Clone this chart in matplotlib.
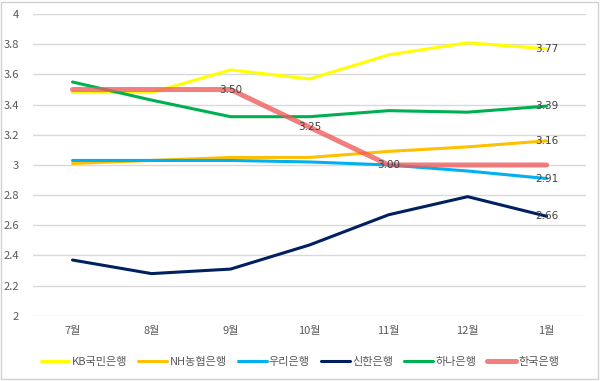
import matplotlib
matplotlib.use("Agg")
import matplotlib.pyplot as plt
from matplotlib.patches import Rectangle

plt.rcParams['font.family'] = ['Noto Sans CJK KR', 'DejaVu Sans']

months = ["7월", "8월", "9월", "10월", "11월", "12월", "1월"]
kb = [3.48, 3.48, 3.63, 3.57, 3.73, 3.81, 3.77]
nh = [3.01, 3.03, 3.05, 3.05, 3.09, 3.12, 3.16]
woori = [3.03, 3.03, 3.03, 3.02, 3.00, 2.96, 2.91]
shinhan = [2.37, 2.28, 2.31, 2.47, 2.67, 2.79, 2.66]
hana = [3.55, 3.43, 3.32, 3.32, 3.36, 3.35, 3.39]
bok = [3.50, 3.50, 3.50, 3.25, 3.00, 3.00, 3.00]
yticks = [2, 2.2, 2.4, 2.6, 2.8, 3, 3.2, 3.4, 3.6, 3.8, 4]
ytick_labels = ["2", "2.2", "2.4", "2.6", "2.8", "3", "3.2", "3.4", "3.6", "3.8", "4"]

series = [
    ("KB국민은행", kb, "#FFFF00", 2.2, 1.0, [6]),
    ("NH농협은행", nh, "#FFC000", 2.2, 1.0, [6]),
    ("우리은행", woori, "#00B0F0", 2.2, 1.0, [6]),
    ("신한은행", shinhan, "#002060", 2.2, 1.0, [6]),
    ("하나은행", hana, "#00B050", 2.2, 1.0, [6]),
    ("한국은행", bok, "#F05A5A", 3.6, 0.78, [2, 3, 4]),
]

fig = plt.figure(figsize=(6, 3.81), dpi=100)
ax = fig.add_axes([0.055, 0.171, 0.922, 0.792])
x = list(range(len(months)))
for name, vals, col, lw, al, lab in series:
    ax.plot(x, vals, color=col, lw=lw, alpha=al, label=name, solid_capstyle='round', zorder=3)
for name, vals, col, lw, al, lab in series:
    for i in lab:
        ax.text(x[i], vals[i], f"{vals[i]:.2f}", ha='center', va='center',
                fontsize=7.5, color='#404040', family=['DejaVu Sans'], zorder=5)

ax.set_xlim(-0.5, len(months) - 0.5)
ax.set_ylim(2, 4)
ax.set_yticks(yticks)
ax.set_yticklabels(ytick_labels)
ax.set_xticks(x)
ax.set_xticklabels(months)
ax.tick_params(length=0, labelsize=8, colors='#595959')
ax.tick_params(axis='y', pad=10)
ax.tick_params(axis='x', pad=7)
ax.grid(axis='y', color='#D9D9D9', lw=1)
ax.set_axisbelow(True)
for s in ax.spines.values():
    s.set_visible(False)

fig.legend(loc='center', bbox_to_anchor=(0.5, 0.05), ncol=6, frameon=False,
           fontsize=8, handlelength=2.6, columnspacing=1.0, handletextpad=0.2,
           labelcolor='#595959')
fig.patches.append(Rectangle((0.002, 0.004), 0.994, 0.99, transform=fig.transFigure,
                             fill=False, edgecolor='#D0D0D0', lw=1))
fig.savefig("out.png", dpi=100)
